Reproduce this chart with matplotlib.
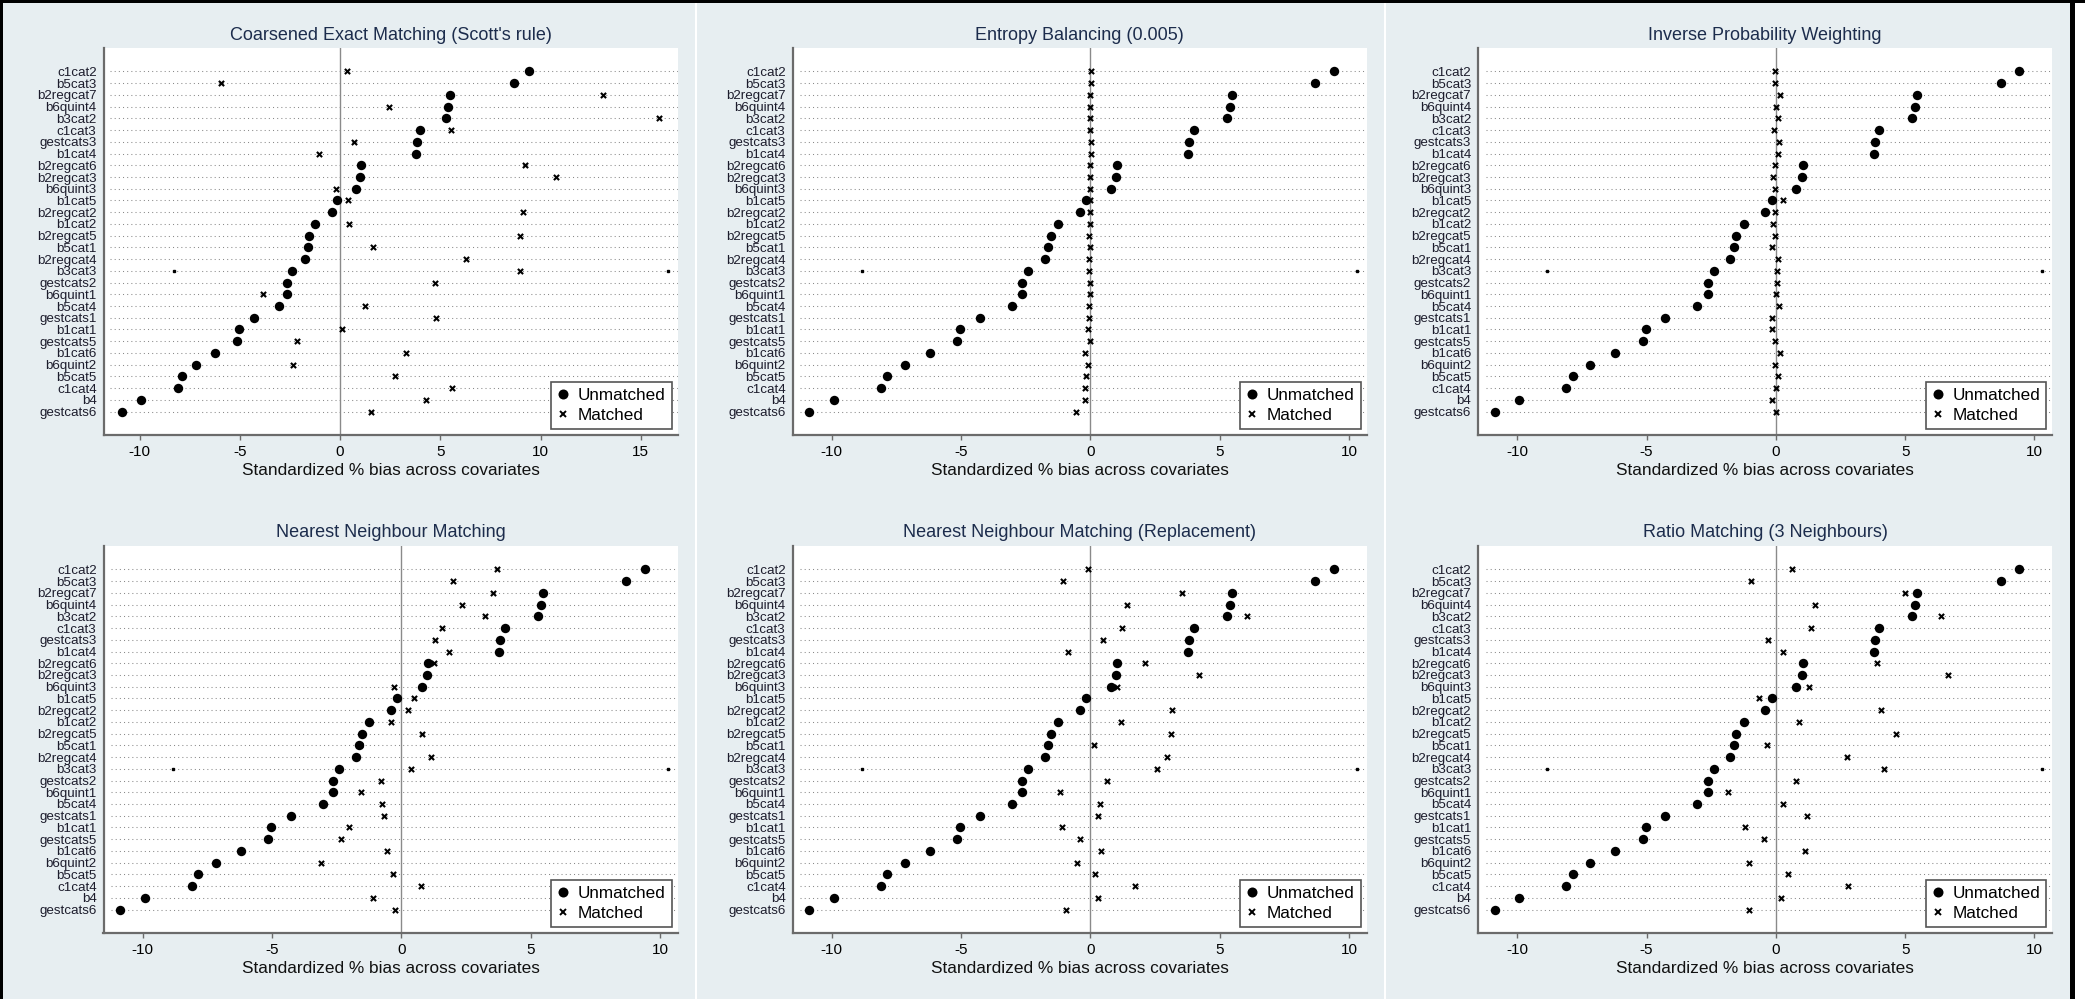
import matplotlib
matplotlib.use('Agg')
import matplotlib.pyplot as plt
from matplotlib.lines import Line2D
from matplotlib.patches import Rectangle

plt.rcParams['font.family'] = ['Liberation Sans', 'DejaVu Sans']
plt.rcParams['axes.unicode_minus'] = False

covariates = ["c1cat2", "b5cat3", "b2regcat7", "b6quint4", "b3cat2", "c1cat3", "gestcats3",
              "b1cat4", "b2regcat6", "b2regcat3", "b6quint3", "b1cat5", "b2regcat2", "b1cat2",
              "b2regcat5", "b5cat1", "b2regcat4", "b3cat3", "gestcats2", "b6quint1", "b5cat4",
              "gestcats1", "b1cat1", "gestcats5", "b1cat6", "b6quint2", "b5cat5", "c1cat4",
              "b4", "gestcats6"]

unmatched = [9.41, 8.69, 5.47, 5.39, 5.27, 3.99, 3.83, 3.78, 1.04, 1.00, 0.78, -0.16, -0.41,
             -1.24, -1.54, -1.62, -1.76, -2.40, -2.63, -2.63, -3.04, -4.27, -5.03, -5.15,
             -6.22, -7.18, -7.86, -8.10, -9.93, -10.88]

matched_cem = [0.35, -5.94, 13.13, 2.44, 15.9, 5.54, 0.67, -1.04, 9.2, 10.78, -0.18, 0.42, 9.14,
               0.44, 8.98, 1.64, 6.27, 8.98, 4.72, -3.86, 1.22, 4.79, 0.09, -2.15, 3.28, -2.37,
               2.75, 5.59, 4.30, 1.53]
matched_eb = [0.03, 0.03, -0.02, -0.02, -0.03, -0.02, 0.02, 0.03, -0.03, -0.02, -0.03, -0.03,
              -0.03, -0.02, -0.07, -0.02, -0.07, -0.07, -0.02, -0.02, -0.07, -0.07, -0.10, -0.02,
              -0.19, -0.10, -0.16, -0.19, -0.19, -0.57]
matched_ipw = [-0.03, -0.03, 0.17, 0.02, 0.10, -0.09, 0.14, 0.10, -0.03, -0.10, -0.03, 0.26,
               -0.03, -0.10, -0.03, -0.15, 0.10, 0.05, 0.05, 0.02, 0.14, -0.15, -0.15, -0.03,
               0.17, -0.03, 0.10, 0.02, -0.15, 0.02]
matched_nn = [3.69, 2.01, 3.55, 2.35, 3.25, 1.56, 1.30, 1.85, 1.25, 1.00, -0.28, 0.48, 0.24,
              -0.40, 0.81, -1.60, 1.14, 0.38, -0.78, -1.56, -0.74, -0.69, -2.02, -2.32, -0.57,
              -3.11, -0.31, 0.76, -1.11, -0.24]
matched_nnr = [-0.10, -1.07, 3.54, 1.40, 6.04, 1.23, 0.47, -0.85, 2.12, 4.21, 1.04, -0.15, 3.14,
               1.19, 3.13, 0.16, 2.97, 2.59, 0.64, -1.17, 0.36, 0.28, -1.11, -0.40, 0.40, -0.52,
               0.19, 1.73, 0.31, -0.93]
matched_ratio = [0.62, -0.98, 5.01, 1.50, 6.40, 1.36, -0.29, 0.26, 3.92, 6.66, 1.29, -0.65, 4.06,
                 0.88, 4.63, -0.36, 2.74, 4.18, 0.79, -1.86, 0.26, 1.20, -1.19, -0.45, 1.12,
                 -1.03, 0.46, 2.79, 0.21, -1.03]

titles = ["Coarsened Exact Matching (Scott's rule)", "Entropy Balancing (0.005)",
          "Inverse Probability Weighting", "Nearest Neighbour Matching",
          "Nearest Neighbour Matching (Replacement)", "Ratio Matching (3 Neighbours)"]
matched_all = [matched_cem, matched_eb, matched_ipw, matched_nn, matched_nnr, matched_ratio]
xticks_all = [[-10, -5, 0, 5, 10, 15]] + [[-10, -5, 0, 5, 10]] * 5
xlims_all = [(-11.8, 16.83)] + [(-11.52, 10.68)] * 5
# tiny marks appearing on the b3cat3 row
marks_all = [[-8.29, 16.38]] + [[-8.84, 10.31]] * 5
mark_row = "b3cat3"

W, H = 2085, 999
fig = plt.figure(figsize=(W / 100, H / 100), dpi=100)
fig.patch.set_facecolor('white')


def fx(x):
    return x / W


def fy(y):
    return 1 - y / H


bg = '#e7eef1'
fig.patches.append(Rectangle((fx(2.5), 0), fx(2070) - fx(2.5), fy(3), transform=fig.transFigure,
                             facecolor=bg, edgecolor='none', zorder=-10))
# borders
fig.patches.append(Rectangle((0, fy(3)), 1, 3 / H, transform=fig.transFigure,
                             facecolor='black', edgecolor='none', zorder=-9))
fig.patches.append(Rectangle((0, 0), fx(2.5), 1, transform=fig.transFigure,
                             facecolor='black', edgecolor='none', zorder=-9))
fig.patches.append(Rectangle((fx(2070), 0), fx(5), 1, transform=fig.transFigure,
                             facecolor='black', edgecolor='none', zorder=-9))
for sx in (696, 1385):
    fig.patches.append(Rectangle((fx(sx - 1), 0), fx(2), fy(3), transform=fig.transFigure,
                                 facecolor='white', edgecolor='none', zorder=-8))

lefts = [103.5, 792.5, 1478]
axw = 574
rows = [(48, 435), (546, 933)]
title_y = [35, 532.5]

n = len(covariates)
ypos = list(range(n))
mark_idx = covariates.index(mark_row)

for k in range(6):
    r, c = divmod(k, 3)
    top, bot = rows[r]
    left = lefts[c]
    ax = fig.add_axes([fx(left), fy(bot), axw / W, (bot - top) / H])
    ax.set_facecolor('white')
    xl = xlims_all[k]
    ax.set_xlim(*xl)
    ax.set_ylim(n + 1, -2)
    for i in ypos:
        ax.plot([xl[0] + 0.3, xl[1]], [i, i], color='#8a8a8a', lw=0.75,
                ls=(0, (1, 3.0)), zorder=1)
    ax.axvline(0, color='#8a8a8a', lw=1.0, zorder=1.5)
    ax.scatter(unmatched, ypos, s=46, c='black', marker='o', zorder=3, linewidths=0)
    ax.scatter(matched_all[k], ypos, s=14, c='black', marker='x', zorder=4, linewidths=1.5)
    ax.plot(marks_all[k], [mark_idx] * 2, 's', ms=1.5, color='black', zorder=2)

    ax.set_yticks(ypos)
    ax.set_yticklabels(covariates, fontsize=9.6, color='#1c1c2c')
    ax.set_xticks(xticks_all[k])
    ax.set_xticklabels([str(t) for t in xticks_all[k]], fontsize=11)
    ax.tick_params(axis='y', length=0, pad=5.0)
    ax.tick_params(axis='x', length=3.8, width=1.0, color='#6b6b6b', pad=3.6)
    for s in ('top', 'right'):
        ax.spines[s].set_visible(False)
    for s in ('left', 'bottom'):
        ax.spines[s].set_color('#6b6b6b')
        ax.spines[s].set_linewidth(1.6)
    ax.set_xlabel('Standardized % bias across covariates', fontsize=12.4, labelpad=2.5,
                  color='#111111')

    handles = [Line2D([], [], marker='o', ls='none', color='black', ms=7.2, mew=0),
               Line2D([], [], marker='x', ls='none', color='black', ms=3.8, mew=1.4)]
    leg = ax.legend(handles, ['Unmatched', 'Matched'], loc='lower right', fontsize=12.3,
                    frameon=True, fancybox=False, edgecolor='#555555', framealpha=1,
                    borderaxespad=0.35, handlelength=0.7, handletextpad=0.5,
                    labelspacing=0.3, borderpad=0.35)
    leg.get_frame().set_linewidth(1.2)
    leg.set_zorder(6)

    fig.text(fx(left + axw / 2), fy(title_y[r]), titles[k], ha='center', va='center',
             fontsize=13, color='#1c2c4c')

fig.savefig('out.png', dpi=100, facecolor=fig.get_facecolor())
